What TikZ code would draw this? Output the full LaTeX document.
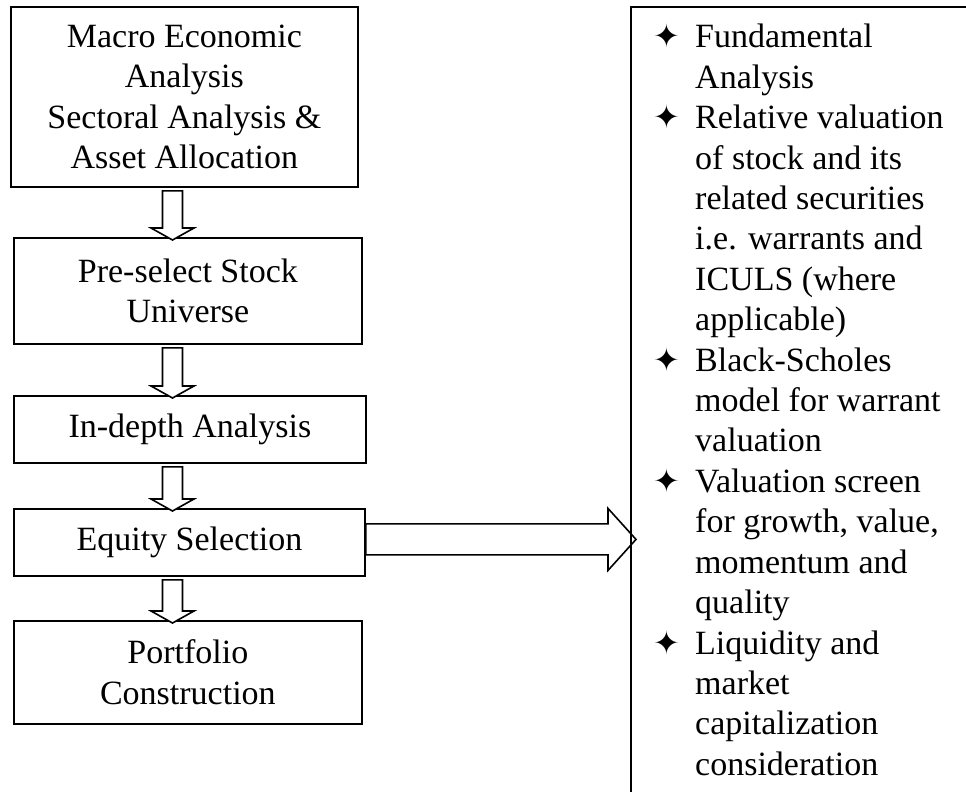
\documentclass[tikz,border=0pt]{standalone}
\usepackage{fontspec}
\setmainfont{Liberation Serif}
\newfontfamily\dingfont{DejaVu Sans}
\usetikzlibrary{calc}

\newcommand{\starbul}{\makebox[42pt][l]{\raisebox{0pt}[0pt][0pt]{\dingfont\fontsize{32}{32}\selectfont ✦}}}
\newcommand{\nobul}{\makebox[42pt]{}}

\tikzset{
	stage/.style={draw, line width=1.8pt, align=center, inner sep=0pt, anchor=north west,
		font=\fontsize{34}{40.5}\selectfont},
	hollow/.style={draw, line width=1.6pt, fill=white, line join=miter},
}

\begin{document}
\begin{tikzpicture}[x=1pt,y=1pt]
		\useasboundingbox (0,0) rectangle (966,-792);
		\clip (0,0) rectangle (966,-792);
		
		% Left column - the stages
		\node[stage, minimum width=347, minimum height=180] (macro) at (10,-6) {Macro Economic\\Analysis\\Sectoral Analysis \&\\Asset Allocation};
		\node[stage, minimum width=348, minimum height=106] (preselect) at (13,-237) {Pre-select Stock\\Universe};
		\node[stage, minimum width=352, minimum height=67] (indepth) at (13,-395) {In-depth Analysis};
		\node[stage, minimum width=351, minimum height=67] (equity) at (13,-508) {Equity Selection};
		\node[stage, minimum width=348, minimum height=103] (portfolio) at (13,-620) {Portfolio\\Construction};
		
		% Right column - the selection criteria
		\node[draw, line width=1.8pt, anchor=north west, minimum width=400, minimum height=840] (panel) at (630,-6) {};
		\node[anchor=base west, inner sep=0pt, font=\fontsize{34}{40.4}\selectfont] (criteria) at (653,-48) {%
			\begin{tabular}[t]{@{}l@{}}
				\starbul Fundamental\\
				\nobul Analysis\\
				\starbul Relative valuation\\
				\nobul of stock and its\\
				\nobul related securities\\
				\nobul i.e. warrants and\\
				\nobul ICULS (where\\
				\nobul applicable)\\
				\starbul Black-Scholes\\
				\nobul model for warrant\\
				\nobul valuation\\
				\starbul Valuation screen\\
				\nobul for growth, value,\\
				\nobul momentum and\\
				\nobul quality\\
				\starbul Liquidity and\\
				\nobul market\\
				\nobul capitalization\\
				\nobul consideration
			\end{tabular}};
		
		% Block arrows between the stages
		\coordinate (axis) at (172.5,0);
		\foreach \a/\b in {macro/preselect, preselect/indepth, indepth/equity, equity/portfolio} {
			\path (\a.south -| axis) coordinate (tail) (\b.north -| axis) coordinate (tip);
			\draw[hollow] ($(tail)+(-10,-3)$) -- ($(tip)+(-10,9)$) -- ($(tip)+(-21.5,9)$) -- ($(tip)+(0,-3)$)
				-- ($(tip)+(21.5,9)$) -- ($(tip)+(10,9)$) -- ($(tail)+(10,-3)$) -- cycle;
		}
		
		% Arrow from the selection to the criteria
		\path ($(equity.east)+(0,3)$) coordinate (from) (from -| panel.west) coordinate (to);
		\draw[hollow, fill=none] ($(from)+(0,15.5)$) -- ($(to)+(-22,15.5)$) -- ($(to)+(-22,31)$) -- ($(to)+(6,0)$)
			-- ($(to)+(-22,-31)$) -- ($(to)+(-22,-15.5)$) -- ($(from)+(0,-15.5)$) -- cycle;
	\end{tikzpicture}
\end{document}
